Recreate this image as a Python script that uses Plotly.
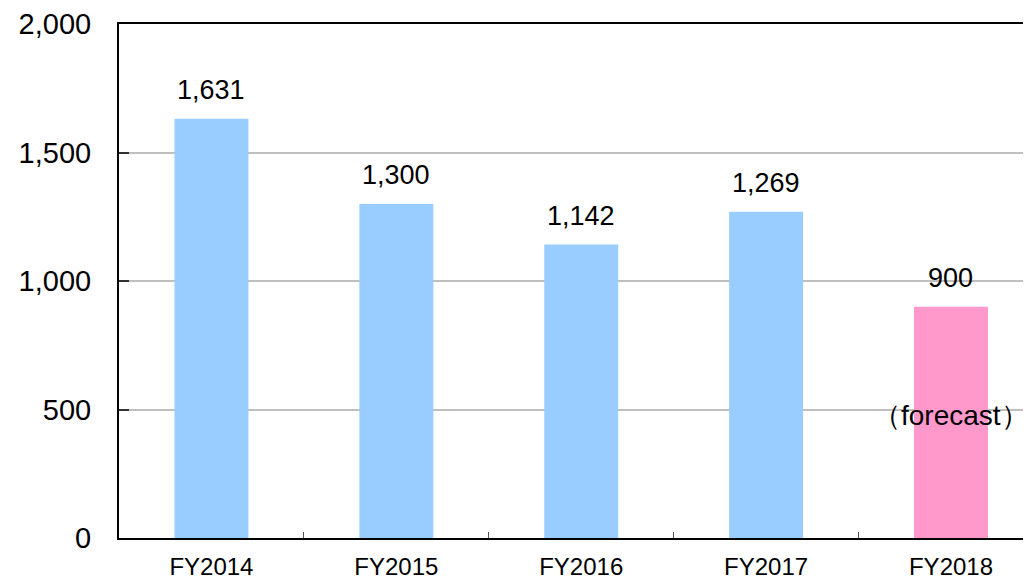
import plotly.graph_objects as go

categories = ["FY2014", "FY2015", "FY2016", "FY2017", "FY2018"]
values = [1631, 1300, 1142, 1269, 900]
labels = ["1,631", "1,300", "1,142", "1,269", "900"]
bar_colors = ["#99CCFF", "#99CCFF", "#99CCFF", "#99CCFF", "#FF99CC"]
y_ticks = [0, 500, 1000, 1500, 2000]
y_tick_text = ["0", "500", "1,000", "1,500", "2,000"]
note_text = "（forecast）"
note_value = 478

FONT = "Liberation Sans, Arial, sans-serif"

fig = go.Figure()
fig.add_trace(go.Bar(x=categories, y=values, marker=dict(color=bar_colors, line=dict(width=0)),
                     width=0.4, hoverinfo="skip"))

for c, v, t in zip(categories, values, labels):
    fig.add_annotation(x=c, y=v, text=t, showarrow=False, yanchor="middle", yshift=29,
                       font=dict(family=FONT, size=27, color="#000000"))
fig.add_annotation(x=categories[-1], y=note_value, text=note_text, showarrow=False,
                   yanchor="middle", font=dict(family=FONT, size=28, color="#000000"))

fig.update_layout(
    width=1031, height=579,
    margin=dict(l=111, r=0, t=16, b=49),
    paper_bgcolor="white", plot_bgcolor="white",
    showlegend=False, bargap=0.6,
    xaxis=dict(type="category", range=[-0.5, 4.476], showline=True, linecolor="black", linewidth=2,
               mirror=True, ticks="inside", ticklen=6, tickcolor="#555555", tickwidth=1,
               tickson="boundaries", showgrid=False, ticklabelstandoff=6, automargin=False,
               tickfont=dict(family=FONT, size=24, color="#000000")),
    yaxis=dict(range=[0, 2000], tickvals=y_ticks, ticktext=y_tick_text, showline=True,
               linecolor="black", linewidth=2, ticks="inside", ticklen=10, tickcolor="#333333",
               tickwidth=2, showgrid=True, gridcolor="#BFBFBF", gridwidth=2, zeroline=False,
               ticklabelstandoff=20, automargin=False, ticklabeloverflow="allow",
               tickfont=dict(family=FONT, size=29, color="#000000")),
)

fig.write_html("out.html")
